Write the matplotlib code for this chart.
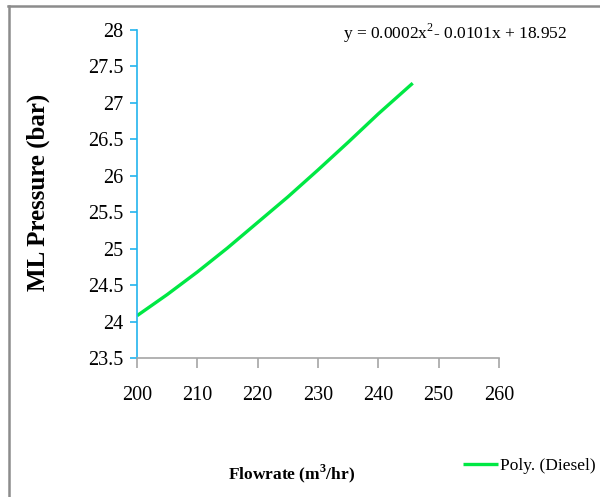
import matplotlib
matplotlib.use("Agg")
import matplotlib.pyplot as plt
from matplotlib.lines import Line2D

flowrate = [200, 205, 210, 215, 220, 225, 230, 235, 240, 245.7]
pressure = [24.08, 24.37, 24.68, 25.01, 25.36, 25.71, 26.08, 26.46, 26.85, 27.27]
x_ticks = [200, 210, 220, 230, 240, 250, 260]
y_ticks = [23.5, 24, 24.5, 25, 25.5, 26, 26.5, 27, 27.5, 28]
y_tick_labels = ["23.5", "24", "24.5", "25", "25.5", "26", "26.5", "27", "27.5", "28"]
equation = "y = 0.0002x$^2$- 0.0101x + 18.952"

plt.rcParams["font.family"] = ["Liberation Serif", "DejaVu Serif"]
plt.rcParams["mathtext.fontset"] = "custom"
plt.rcParams["mathtext.rm"] = "Liberation Serif"
plt.rcParams["mathtext.bf"] = "Liberation Serif:bold"

GREEN = "#00e844"
BLUE = "#22b4ee"
GREY = "#a6a6a6"

fig = plt.figure(figsize=(6.0, 4.97), dpi=100)
ax = fig.add_axes([137 / 600, 1 - 358 / 497, 362 / 600, 328 / 497])

line, = ax.plot(flowrate, pressure, color=GREEN, lw=2.4, solid_capstyle="butt")

ax.set_xlim(200, 260)
ax.set_ylim(23.5, 28)
ax.set_xticks(x_ticks)
ax.set_yticks(y_ticks)
ax.set_yticklabels(y_tick_labels)

for side in ("top", "right"):
    ax.spines[side].set_visible(False)
ax.spines["left"].set_color(BLUE)
ax.spines["left"].set_linewidth(1.2)
ax.spines["bottom"].set_color(GREY)
ax.spines["bottom"].set_linewidth(1.2)
ax.tick_params(axis="y", colors=BLUE, labelcolor="black", length=5, width=1.2,
               labelsize=14.5, pad=5)
ax.tick_params(axis="x", colors=GREY, labelcolor="black", length=7, width=1.2,
               labelsize=14.5, pad=13)

fig.text(292 / 600, 1 - 474 / 497, "Flowrate (m$^\\mathbf{3}$/hr)", ha="center", va="center",
         fontsize=12.5, fontweight="bold")
fig.text(38 / 600, 1 - 192 / 497, "ML Pressure (bar)", ha="center", va="center",
         rotation=90, fontsize=18, fontweight="bold")
fig.text(343 / 600, 1 - 33 / 497, equation, ha="left", va="center", fontsize=12.5)

fig.legend([line], ["Poly. (Diesel)"], loc="center left",
           bbox_to_anchor=(463 / 600, 1 - 466 / 497), frameon=False,
           fontsize=12.5, handlelength=2.0, handletextpad=0.15, borderpad=0,
           borderaxespad=0)

# grey outer frame (only top and left edges are visible in the crop)
fig.add_artist(Line2D([8 / 600, 1], [1 - 6 / 497, 1 - 6 / 497],
                      transform=fig.transFigure, color="#8c8c8c", lw=1.8))
fig.add_artist(Line2D([8.5 / 600, 8.5 / 600], [0, 1 - 6 / 497],
                      transform=fig.transFigure, color="#8c8c8c", lw=1.8))

fig.savefig("out.png", dpi=100)
